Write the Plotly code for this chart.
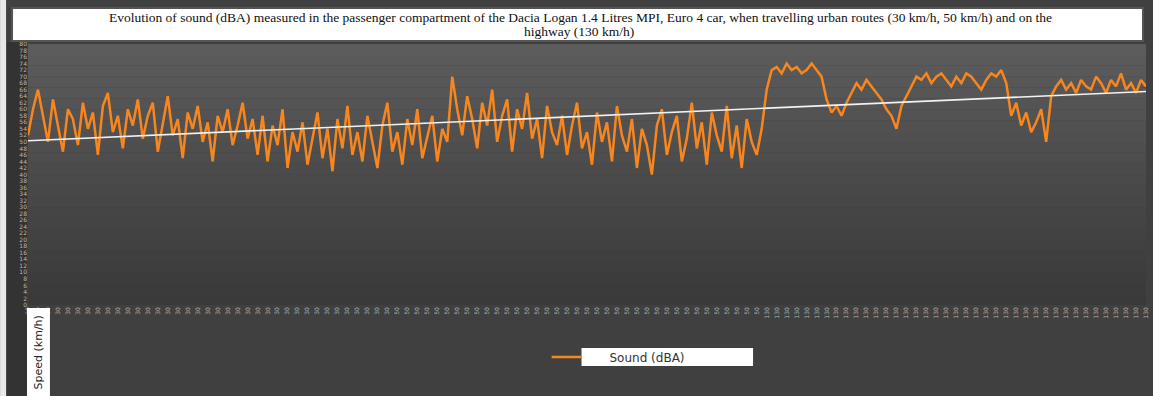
import numpy as np
import plotly.graph_objects as go

# Sound level samples (dBA), left to right
sound = [
    52, 60, 66, 58, 50, 63, 55, 47, 60, 57,
    49, 62, 54, 59, 46, 61, 65, 53, 58, 48,
    60, 55, 63, 51, 58, 62, 47, 56, 64, 52,
    57, 45, 59, 54, 61, 50, 56, 44, 58, 53,
    60, 49, 55, 62, 51, 57, 46,
    58, 44, 55, 49, 60, 42, 53, 47, 56, 43,
    51, 59, 45, 54, 41, 57, 48, 61, 46, 53,
    44, 58, 50, 42, 55, 62, 47, 53, 43, 57,
    49, 60, 45, 52, 58, 44, 54, 50,
    70, 60, 52, 64, 57, 48, 62, 55, 66, 50,
    58, 63, 47, 60, 54, 65, 51, 57, 45, 61, 53, 49,
    58, 46, 55, 62, 48, 53, 43, 59, 50, 56,
    44, 61, 52, 47, 57, 42, 54, 49, 40, 55,
    60, 46, 53, 58, 44, 51, 62, 48, 56, 43,
    59, 52, 47, 61, 45, 55, 42, 57, 50, 46,
    54,
    66, 72, 73, 71, 74, 72, 73, 71, 72, 74, 72, 70,
    63, 59, 61, 58,
    62, 65, 68, 66, 69, 67, 65,
    63, 60, 58, 54, 61, 64,
    67, 70, 69, 71, 68, 70, 71, 69, 67, 70, 68, 71, 70, 68, 66, 69, 71, 70, 72, 68,
    58, 62, 55, 59, 53, 56, 60, 50,
    64, 67, 69, 66, 68, 65, 69, 67, 66, 70, 68, 65, 69, 67, 71, 66, 68, 65, 69, 67,
]
# Speed (km/h) for each sample: urban 30, urban 50, highway 130
speed = [30] * 74 + [50] * 74 + [130] * 77

title_line1 = ("Evolution of sound (dBA) measured in the passenger compartment of the Dacia Logan 1.4 Litres MPI, "
               "Euro 4 car, when travelling urban routes (30 km/h, 50 km/h) and on the")
title_line2 = "highway (130 km/h)"

x = np.arange(len(sound))
coef = np.polyfit(x, sound, 1)
trend = np.polyval(coef, x)

W, H = 1153, 396
L, R, T, B = 28, 4, 44, 91
pw, ph = W - L - R, H - T - B

def px(xp):
    return (xp - L) / pw

def py(yp):
    return (H - B - yp) / ph

fig = go.Figure()
fig.add_trace(go.Scatter(x=x, y=sound, mode="lines", name="\u00a0" * 6 + "Sound (dBA)",
                         line=dict(color="#F7861E", width=2.5)))
fig.add_trace(go.Scatter(x=x, y=trend, mode="lines", name="Linear (Sound)", showlegend=False,
                         line=dict(color="#F2F2F2", width=1.6)))

shapes = []
# gradient plot background
n = 24
top = np.array([0x5c, 0x5c, 0x5c])
bot = np.array([0x3a, 0x3a, 0x3a])
for i in range(n):
    c = top + (bot - top) * i / (n - 1)
    shapes.append(dict(type="rect", xref="paper", yref="paper", x0=0, x1=1,
                       y0=1 - (i + 1) / n, y1=1 - i / n, layer="below",
                       line=dict(width=0), fillcolor="rgb(%d,%d,%d)" % tuple(c)))
# left label strip and outer white edge
shapes.append(dict(type="rect", xref="paper", yref="paper", x0=px(7), x1=px(27), y0=py(396), y1=py(42),
                   layer="below", line=dict(width=0), fillcolor="#333333"))
shapes.append(dict(type="rect", xref="paper", yref="paper", x0=px(0), x1=px(6), y0=py(396), y1=py(0),
                   layer="below", line=dict(width=0), fillcolor="#e8e8e8"))
# title box
shapes.append(dict(type="rect", xref="paper", yref="paper", x0=px(12), x1=px(1146), y0=py(41), y1=py(8),
                   line=dict(color="#555555", width=2), fillcolor="white"))
# speed title box
shapes.append(dict(type="rect", xref="paper", yref="paper", x0=px(27), x1=px(50), y0=py(396), y1=py(308),
                   line=dict(width=0), fillcolor="white"))
# legend text box
shapes.append(dict(type="rect", xref="paper", yref="paper", x0=px(583), x1=px(755), y0=py(366), y1=py(348),
                   line=dict(width=0), fillcolor="white"))

tfont = dict(family="Liberation Serif", size=13.5, color="#111111")
fig.update_layout(
    width=W, height=H,
    margin=dict(l=L, r=R, t=T, b=B),
    paper_bgcolor="#404040",
    plot_bgcolor="rgba(0,0,0,0)",
    shapes=shapes,
    showlegend=True,
    legend=dict(x=px(548), xanchor="left", y=py(357), yanchor="middle", bgcolor="rgba(0,0,0,0)",
                font=dict(family="DejaVu Sans", size=12, color="#333333"), itemwidth=30),
    annotations=[
        dict(text=title_line1, xref="paper", yref="paper", x=px(582), y=py(17), showarrow=False,
             xanchor="center", yanchor="middle", font=tfont),
        dict(text=title_line2, xref="paper", yref="paper", x=px(580), y=py(31), showarrow=False,
             xanchor="center", yanchor="middle", font=tfont),
        dict(text="Speed (km/h)", xref="paper", yref="paper", x=px(38.5), y=py(352), showarrow=False,
             textangle=-90, xanchor="center", yanchor="middle",
             font=dict(family="DejaVu Sans", size=11, color="#222222")),
    ],
    xaxis=dict(range=[0, len(sound) - 1], showgrid=False, zeroline=False, showline=False,
               tickmode="array", tickvals=list(x[::2]), ticktext=[str(s) for s in speed[::2]],
               tickangle=-90, tickfont=dict(family="DejaVu Sans", size=6, color="#b5b5b5"), ticks=""),
    yaxis=dict(range=[0, 80], dtick=2, showgrid=False, zeroline=False, showline=False,
               tickfont=dict(family="DejaVu Sans", size=6, color="#b5b5b5"), ticks=""),
)

fig.write_html("out.html", config={"displayModeBar": False},
               post_script="document.body.style.margin='0px';")
